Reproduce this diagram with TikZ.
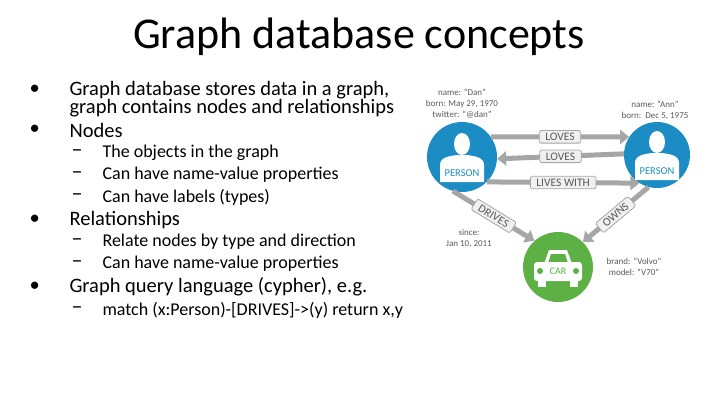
\documentclass[tikz,border=0pt]{standalone}
\usepackage{fontspec}
\setmainfont{Carlito}
\usetikzlibrary{arrows.meta}
\definecolor{nblue}{HTML}{1B8CC4}
\definecolor{ngreen}{HTML}{5DB043}
\definecolor{egray}{HTML}{A6A6A6}
\tikzset{
  rel/.style={line width=5pt, draw=egray, -{Triangle[length=9pt,width=14pt]}},
  tag/.style={draw=egray, fill=gray!12, rounded corners=1.5pt, text=gray!70!black,
    font=\fontsize{11.5}{12}\selectfont, inner xsep=6pt, inner ysep=2.5pt, line width=0.8pt},
  prop/.style={text=gray!70!black, font=\fontsize{9}{11}\selectfont, align=center},
  bul/.style={anchor=west, font=\fontsize{20.5}{22}\selectfont},
  sub/.style={anchor=west, font=\fontsize{18}{19}\selectfont}
}
\begin{document}
\begin{tikzpicture}[x=1pt, y=-1pt]
\useasboundingbox (0,0) rectangle (720,405);

% Title
\node (title) at (359,37) {\fontsize{44}{46}\selectfont Graph database concepts};

% Bullet list
\foreach \y/\t in {90/{Graph database stores data in a graph,}, 130/Nodes, 220/Relationships, 287/{Graph query language (cypher), e.g.}} {
  \node[bul] at (26,\y) {•};
  \node[bul] at (66,\y) {\t};
}
\node[bul] (cont) at (66,108) {graph contains nodes and relationships};
\foreach \y/\t in {153/The objects in the graph, 175/Can have name-value properties, 197/Can have labels (types), 242/Relate nodes by type and direction, 264/Can have name-value properties, 310/{match (x:Person)-[DRIVES]->(y) return x,y}} {
  \node[sub] at (68,\y) {\fontsize{22}{22}\selectfont –};
  \node[sub] at (99,\y) {\t};
}

% Graph nodes
\node[circle, fill=nblue, minimum size=70pt, inner sep=0pt] (dan) at (462,157) {};
\node[circle, fill=nblue, minimum size=66pt, inner sep=0pt] (ann) at (657,155) {};
\node[circle, fill=ngreen, minimum size=70pt, inner sep=0pt] (car) at (558,267) {};

% Person silhouettes
\foreach \p in {dan, ann} {
  \begin{scope}[shift={(\p.center)}]
    \fill[white] (0,-13) ellipse (8 and 11);
    \fill[white] (-22,25) -- (-22,8) .. controls (-22,0) and (-12,-1) .. (-5,-2)
      -- (5,-2) .. controls (12,-1) and (22,0) .. (22,8) -- (22,25) -- cycle;
    \node[text=nblue, font=\fontsize{10.5}{11}\selectfont] (\p lbl) at (0,16) {PERSON};
  \end{scope}
}

% Car icon
\begin{scope}[shift={(car.center)}]
  \fill[white] (-14,-3) -- (-9,-17) -- (9,-17) -- (14,-3) -- cycle;
  \fill[ngreen] (-10,-4) -- (-7,-13) -- (7,-13) -- (10,-4) -- cycle;
  \fill[white, rounded corners=3pt] (-24,-5) rectangle (24,14);
  \fill[white] (-20,12) rectangle (-12,20);
  \fill[white] (12,12) rectangle (20,20);
  \fill[ngreen] (-18,4) circle (3);
  \fill[ngreen] (18,4) circle (3);
  \node[text=ngreen, font=\fontsize{10}{11}\selectfont] (carlbl) at (0,4) {CAR};
\end{scope}

% Relationships
\draw[rel] (dan.35) -- node[tag] {LOVES} (ann.147);
\draw[rel] (ann.178) -- node[tag] {LOVES} (dan.-3);
\draw[rel] (dan.-45) -- node[tag] {LIVES WITH} (ann.-122);
\draw[rel] (dan.-105) -- node[tag, sloped] {DRIVES} (car.132);
\draw[rel] (ann.-105) -- node[tag, sloped] {OWNS} (car.45);

% Properties
\node[prop] (danp) at (462,104) {name: “Dan”\\born: May 29, 1970\\twitter: “@dan”};
\node[prop] (annp) at (655,110) {name: “Ann”\\born:\ \ Dec 5, 1975};
\node[prop] (since) at (469,238) {since:\\Jan 10, 2011};
\node[prop] (carp) at (634,267) {brand: “Volvo”\\model: “V70”};
\end{tikzpicture}
\end{document}
